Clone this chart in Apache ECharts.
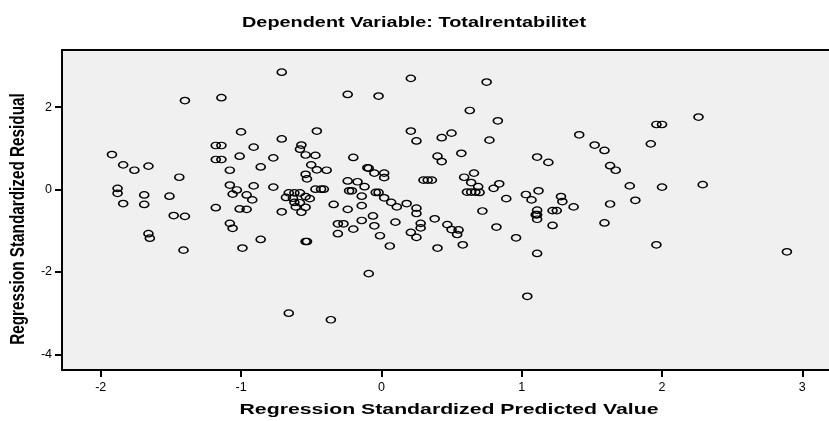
<!DOCTYPE html>
<html>
<head>
<meta charset="utf-8">
<script src="https://cdn.jsdelivr.net/npm/echarts@6/dist/echarts.min.js"></script>
<style>
html,body{margin:0;padding:0;background:#fff;}
#chart{width:829px;height:421px;}
</style>
</head>
<body>
<div id="chart"></div>
<script>
const titleText = 'Dependent Variable: Totalrentabilitet';
const xAxisName = 'Regression Standardized Predicted Value';
const yAxisName = 'Regression Standardized Residual';
const xTicks = [-2, -1, 0, 1, 2, 3];
const yTicks = [-4, -2, 0, 2];

const predicted = [
-1.40,-1.14,-1.00,-1.18,-1.14,-0.91,-1.92,-1.01,-1.18,-1.14,
-1.84,-1.76,-1.66,-1.08,-1.44,-1.88,-1.88,-1.69,-1.51,-1.08,
-1.03,-1.06,-0.96,-0.91,-0.92,-1.84,-1.69,-1.18,-1.01,-0.96,
-1.48,-1.40,-1.66,-1.65,-1.08,-1.06,-1.41,-0.99,
-0.71,0.21,-0.24,-0.02,-0.46,0.21,0.25,-0.71,0.43,0.50,
-0.57,-0.58,-0.54,-0.47,-0.77,-0.20,-0.86,-0.50,-0.46,-0.39,
-0.54,-0.53,-0.10,-0.09,-0.05,0.02,0.02,0.40,0.43,-0.77,
-0.66,-0.62,-0.58,-0.68,-0.63,-0.62,-0.58,-0.54,-0.51,-0.47,
-0.43,-0.41,-0.34,-0.24,-0.17,-0.23,-0.21,-0.12,-0.14,-0.04,
-0.02,0.02,0.07,0.11,0.18,0.25,-0.14,-0.24,0.30,0.33,0.36,
-0.71,-0.61,-0.57,-0.54,-0.31,-0.27,-0.31,-0.20,-0.14,-0.06,
-0.05,-0.01,0.06,0.25,0.10,0.28,0.28,0.21,0.25,0.38,
0.47,0.50,0.40,-0.86,-0.54,-0.53,-0.09,-0.66,-0.36,
0.75,0.63,0.83,0.77,0.57,1.41,1.52,1.59,1.92,1.11,
1.19,1.63,1.67,0.59,0.66,0.64,0.69,0.61,0.64,0.67,
0.70,0.80,0.84,0.89,1.03,1.07,1.12,1.28,1.29,1.37,
1.77,1.81,1.63,0.72,1.11,1.10,1.11,1.11,1.22,1.25,
1.22,0.82,0.96,0.55,0.54,0.58,1.59,1.11,1.04,
2.26,1.96,2.00,2.00,2.29,1.96,2.89
];
const residual = [
2.16,2.23,1.40,1.07,1.07,1.03,0.85,0.81,0.73,0.73,
0.60,0.47,0.57,0.47,0.30,0.03,-0.09,-0.13,-0.16,0.11,
-0.01,-0.11,-0.13,0.09,-0.25,-0.34,-0.36,-0.44,-0.47,-0.48,
-0.63,-0.65,-1.07,-1.18,-0.82,-0.94,-1.47,-1.42,
2.85,2.70,2.31,2.27,1.42,1.42,1.18,1.23,1.26,1.37,
1.08,0.98,0.84,0.83,0.77,0.78,0.55,0.60,0.48,0.47,
0.37,0.26,0.53,0.52,0.40,0.40,0.29,0.81,0.68,0.06,
-0.08,-0.08,-0.08,-0.19,-0.21,-0.31,-0.32,-0.17,-0.22,0.01,
0.01,0.01,-0.36,0.21,0.19,-0.03,-0.03,0.07,-0.16,-0.07,
-0.07,-0.20,-0.31,-0.42,-0.34,-0.45,-0.39,-0.48,0.23,0.23,0.23,
-0.54,-0.42,-0.55,-0.43,-0.83,-0.83,-1.07,-0.96,-0.75,-0.64,
-0.88,-1.12,-1.37,-0.58,-0.79,-0.82,-0.93,-1.04,-1.16,-0.71,
-0.85,-0.97,-1.42,-1.21,-1.26,-1.26,-2.04,-3.00,-3.16,
2.61,1.92,1.67,1.20,0.88,1.33,1.08,0.95,1.11,0.79,
0.66,0.58,0.47,0.30,0.40,0.17,0.07,-0.06,-0.06,-0.06,
-0.07,0.03,0.14,-0.22,-0.12,-0.25,-0.03,-0.17,-0.29,-0.42,
0.09,-0.26,-0.35,-0.52,-0.50,-0.61,-0.61,-0.72,-0.51,-0.51,
-0.87,-0.91,-1.17,-0.98,-1.09,-1.34,-0.81,-1.55,-2.59,
1.76,1.58,1.58,0.06,0.12,-1.34,-1.51
];

const points = predicted.map((v, i) => [v, residual[i]]);
const FONT = '"Liberation Sans", Arial, sans-serif';
const STRETCH = 1.37;

const chart = echarts.init(document.getElementById('chart'), null, {renderer: 'canvas'});
chart.setOption({
  animation: false,
  backgroundColor: '#ffffff',
  graphic: [{
    type: 'text', x: 414, y: 23, scaleX: STRETCH, silent: true,
    style: {text: titleText, fontFamily: FONT, fontSize: 14.5, fontWeight: 'bold',
            fill: '#000', align: 'center', verticalAlign: 'middle'}
  }, {
    type: 'text', x: 449, y: 410, scaleX: STRETCH, silent: true,
    style: {text: xAxisName, fontFamily: FONT, fontSize: 15.5, fontWeight: 'bold',
            fill: '#000', align: 'center', verticalAlign: 'middle'}
  }, {
    type: 'text', x: 18, y: 219, rotation: Math.PI / 2, scaleY: STRETCH, silent: true,
    style: {text: yAxisName, fontFamily: FONT, fontSize: 15.3, fontWeight: 'bold',
            fill: '#000', align: 'center', verticalAlign: 'middle'}
  }],
  grid: {
    left: 62, right: 0, top: 50, bottom: 51,
    show: true, backgroundColor: '#f0f0f0', borderWidth: 0
  },
  xAxis: [{
    type: 'value',
    min: -2.276, max: 3.19,
    position: 'bottom',
    axisLine: {show: true, onZero: false, lineStyle: {color: '#000', width: 2}},
    axisTick: {show: true, length: 7, lineStyle: {color: '#000', width: 2}, customValues: xTicks},
    axisLabel: {fontFamily: FONT, fontSize: 12.5, color: '#000', margin: 11, customValues: xTicks},
    splitLine: {show: false}
  }, {
    type: 'value',
    min: -2.276, max: 3.19,
    position: 'top',
    axisLine: {show: true, onZero: false, lineStyle: {color: '#000', width: 2}},
    axisTick: {show: false},
    axisLabel: {show: false},
    splitLine: {show: false}
  }],
  yAxis: {
    type: 'value',
    min: -4.379, max: 3.388,
    axisLine: {show: true, onZero: false, lineStyle: {color: '#000', width: 2}},
    axisTick: {show: true, length: 7, lineStyle: {color: '#000', width: 2}, customValues: yTicks},
    axisLabel: {fontFamily: FONT, fontSize: 12.5, color: '#000', margin: 10, customValues: yTicks},
    splitLine: {show: false}
  },
  series: [{
    type: 'scatter',
    xAxisIndex: 0,
    data: points,
    symbol: 'path://M0,5a5,5 0 1,0 10,0a5,5 0 1,0 -10,0z',
    symbolSize: [9, 6.5],
    itemStyle: {color: 'rgba(0,0,0,0)', borderColor: '#000', borderWidth: 1.4, opacity: 1}
  }]
});
</script>
</body>
</html>
